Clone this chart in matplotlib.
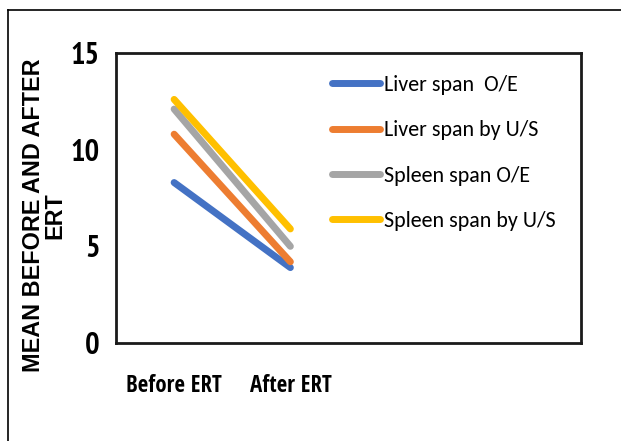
import matplotlib
matplotlib.use("Agg")
import matplotlib.pyplot as plt
import matplotlib.patheffects as pe
from matplotlib.lines import Line2D

# data
categories = ["Before ERT", "After ERT"]
series_names = ["Liver span  O/E", "Liver span by U/S", "Spleen span O/E", "Spleen span by U/S"]
liver_oe = [8.3, 3.9]
liver_us = [10.8, 4.2]
spleen_oe = [12.1, 5.0]
spleen_us = [12.6, 5.9]
colors = ["#4472C4", "#ED7D31", "#A5A5A5", "#FFC000"]

fig = plt.figure(figsize=(6.21, 4.41), dpi=100)
ax = fig.add_axes([116/621, 1 - 343/441, 465/621, 290/441])

x = list(range(len(categories)))
shadow = [pe.SimplePatchShadow(offset=(1.5, -2), alpha=0.25), pe.Normal()]
for vals, name, c in zip([liver_oe, liver_us, spleen_oe, spleen_us], series_names, colors):
    ax.plot(x, vals, color=c, lw=5, solid_capstyle="round", label=name, path_effects=shadow)

ax.set_xlim(-0.5, 3.5)
ax.set_ylim(0, 15)
ax.set_yticks([0, 5, 10, 15])
ax.set_xticks(x)
ax.set_xticklabels(categories, family="Open Sans Condensed", fontweight="bold", fontsize=16.5)
for t in ax.get_yticklabels():
    t.set_family("PT Sans Narrow")
    t.set_fontweight("bold")
    t.set_fontsize(22)
ax.tick_params(length=0)
ax.tick_params(axis="x", pad=22)
ax.tick_params(axis="y", pad=12)
for s in ax.spines.values():
    s.set_linewidth(2)
    s.set_color("#1a1a1a")

ax.set_ylabel("MEAN BEFORE AND AFTER\nERT", fontweight="bold", fontsize=16.8,
              family="Liberation Sans", linespacing=0.92)
ax.yaxis.set_label_coords(-0.107, 0.44)

handles = [Line2D([], [], color=c, lw=5, solid_capstyle="round") for c in colors]
ax.legend(handles, series_names, loc="upper left", bbox_to_anchor=(0.4645, 0.924),
          frameon=False, prop={"family": "Carlito", "size": 15.8}, handlelength=2.2,
          handletextpad=0.15, labelspacing=1.15, borderpad=0, borderaxespad=0)

# outer frame (partially cropped)
fig.add_artist(Line2D([8/621, 8/621], [0, 1 - 10/441], color="black", lw=1.2, transform=fig.transFigure))
fig.add_artist(Line2D([8/621, 1], [1 - 10/441, 1 - 10/441], color="black", lw=1.2, transform=fig.transFigure))

fig.savefig("out.png", dpi=100)
